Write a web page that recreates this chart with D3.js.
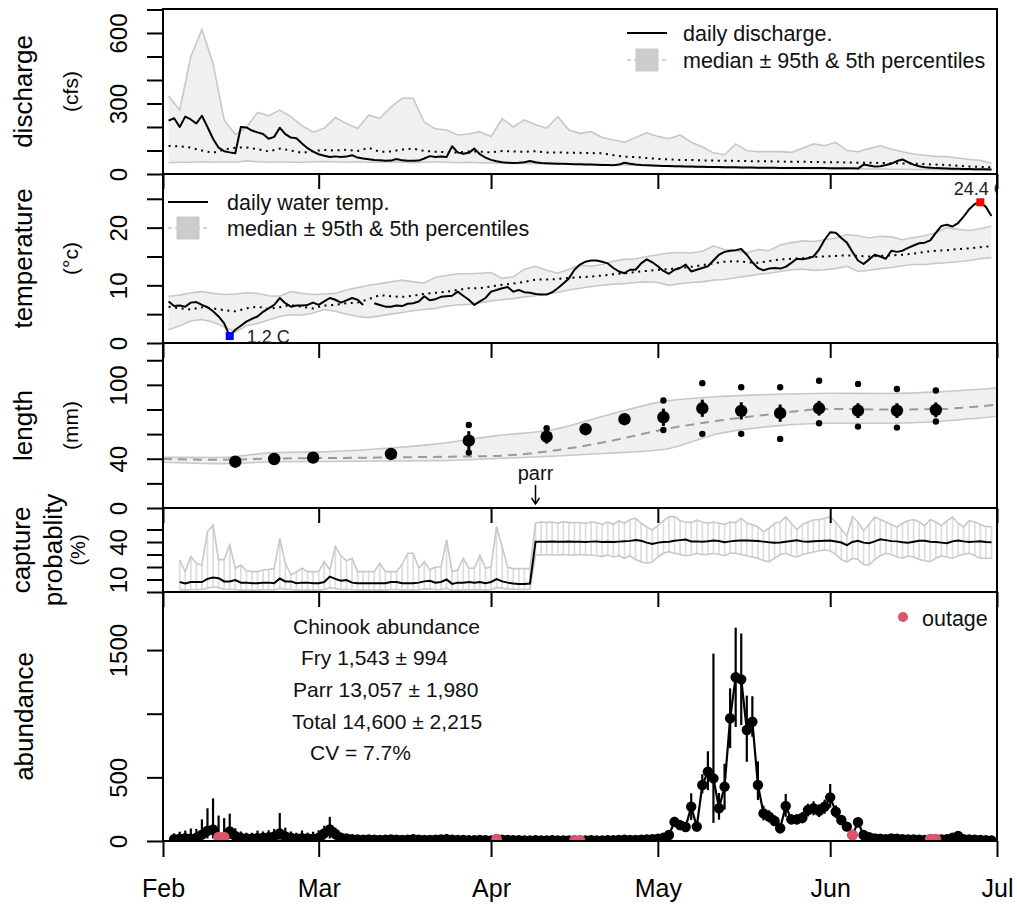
<!DOCTYPE html>
<html><head><meta charset="utf-8">
<script src="https://cdn.jsdelivr.net/npm/d3@7"></script>
<style>
body{margin:0;background:#fff;}
svg{display:block;}
</style></head><body>
<svg id="chart" width="1017" height="905"></svg>
<script>
// ---------------- DATA ----------------
// day index: 0 = 1 Feb
const monthLabels = ["Feb","Mar","Apr","May","Jun","Jul"];

const dischargeStart = 1;
const dischargeDaily = [227,237,200,244,232,215,248,200,150,112,
 97,92,88,200,198,185,177,170,150,158,
 197,170,155,152,130,110,95,84,78,72,
 75,72,74,80,70,66,63,60,58,56,
 57,64,58,56,56,57,66,76,72,74,
 72,118,92,86,90,108,84,70,60,54,
 50,48,47,48,50,55,50,47,46,45,
 44,44,43,42,41,40,40,39,38,38,
 37,40,48,44,40,38,37,36,35,34,
 34,33,33,32,32,31,31,30,30,30,
 29,29,29,28,28,28,27,27,27,27,
 26,26,26,26,25,25,25,25,25,24,
 24,24,24,24,23,40,36,32,33,38,
 44,55,62,50,40,33,29,27,25,24,
 23,22,22,21,21,20,20,20,19];
// band series sampled every 2nd day starting day 1
const bandStart = 1;
const dischargeP95 = [332,272,500,615,470,230,168,198,262,248,
 272,244,205,178,195,240,215,194,250,237,
 285,322,322,220,192,187,166,170,180,160,
 235,200,230,210,195,244,187,173,180,155,
 145,135,155,175,160,150,166,135,116,90,
 82,128,100,95,95,95,92,110,128,120,
 135,100,95,108,120,105,95,85,80,75,
 74,68,62,58,46];
const dischargeP5 = [48,50,50,52,50,52,50,56,52,50,
 52,50,50,52,53,52,50,52,50,50,
 52,50,48,50,52,50,48,50,48,47,
 46,45,45,44,43,42,42,41,40,40,
 38,38,37,36,36,32,31,30,29,28,
 27,27,26,26,25,25,24,24,23,23,
 22,22,22,21,21,20,20,19,19,18,
 18,17,17,16,16];
const dischargeMedian = [119,118,112,100,90,104,112,113,106,96,
 108,100,90,98,102,100,103,98,112,94,
 96,104,108,98,95,93,91,96,95,92,
 98,96,94,97,92,92,90,90,89,88,
 80,74,72,68,64,62,60,60,58,57,
 56,56,55,54,54,53,52,52,51,50,
 50,49,48,48,47,46,45,44,42,40,
 38,35,32,30,28];

const tempStart = 1;
const tempDaily = [7.2,6.4,6.5,6.3,7.0,7.1,6.6,6.2,5.5,4.6,
 3.4,1.2,2.3,3.0,3.7,4.2,4.6,5.4,6.0,6.6,
 7.8,6.9,6.3,6.5,6.5,6.6,7.0,6.6,7.2,7.8,
 7.5,7.0,7.4,7.8,7.5,6.6,null,6.9,6.6,6.3,
 6.3,6.5,6.4,6.8,6.9,7.2,8.1,7.4,7.6,8.0,
 8.1,8.2,8.9,8.2,7.5,6.6,7.2,7.8,8.9,9.2,
 9.5,9.7,8.9,9.2,8.8,8.7,8.5,8.4,8.4,8.8,
 9.5,10.3,11.2,12.7,13.6,14.1,14.3,14.3,14.1,13.8,
 13.0,12.4,12.1,12.7,12.7,13.8,14.5,14.0,13.3,12.5,
 12.0,12.7,13.0,13.6,12.4,12.7,13.0,13.3,14.3,15.3,
 15.8,16.0,16.1,16.3,15.3,14.0,13.0,12.6,12.9,13.0,
 12.9,13.2,13.9,14.6,14.5,14.7,15.0,16.2,17.9,19.2,
 19.1,18.2,17.4,15.8,14.3,13.7,14.5,15.3,15.0,14.6,
 16.0,15.8,16.0,16.5,16.9,17.3,17.4,17.8,19.1,20.3,
 20.5,20.2,20.8,21.9,23.2,24.1,24.4,23.6,22.0];
const tempP95 = [8.1,8.3,8.7,8.9,8.6,8.4,8.5,8.7,8.6,8.2,
 8.1,8.9,8.6,8.4,8.5,8.6,9.2,9.6,10.0,10.3,
 10.6,10.9,10.6,10.4,11.4,11.7,12.0,12.0,12.1,12.2,
 11.2,11.5,12.8,13.3,12.6,12.1,12.8,13.5,13.3,13.6,
 14.2,14.5,14.6,15.0,15.3,15.6,15.7,15.6,15.9,16.8,
 16.2,16.0,15.6,16.2,16.0,17.0,17.4,17.7,17.6,17.9,
 18.2,18.8,18.6,18.2,18.5,18.4,17.9,18.3,18.6,19.1,
 20.0,19.7,19.5,19.8,20.3];
const tempP5 = [2.3,3.0,3.8,4.1,3.6,2.8,1.9,3.0,3.4,4.0,
 4.6,4.9,4.8,5.2,5.8,5.5,5.0,4.6,4.4,4.7,
 5.0,5.3,5.6,5.8,6.0,6.4,6.6,6.7,7.0,7.3,
 7.5,7.7,8.0,8.2,8.5,8.8,9.2,9.5,9.8,10.0,
 10.2,10.3,10.5,10.6,10.5,10.0,10.3,10.5,10.6,10.9,
 11.0,11.3,11.6,11.9,12.1,12.4,12.7,12.8,12.6,12.7,
 12.9,13.3,12.4,12.6,12.9,13.1,13.4,13.6,13.6,13.8,
 13.9,14.1,14.3,14.6,14.8];
const tempMedian = [6.3,6.0,5.8,6.2,6.0,5.7,5.5,6.0,6.3,5.9,
 6.2,6.6,6.3,6.0,6.5,6.6,6.9,7.0,7.6,8.3,
 8.1,8.0,8.2,8.5,8.7,8.9,9.2,9.5,9.5,9.8,
 10.1,10.3,10.6,11.0,11.0,11.1,11.3,11.4,11.5,11.7,
 11.9,12.1,12.3,12.5,12.7,12.8,13.0,13.2,13.5,13.8,
 14.1,14.2,14.0,13.9,14.2,14.5,14.6,14.7,14.9,15.0,
 15.1,15.2,15.1,15.0,15.1,15.2,15.3,15.5,15.8,16.0,
 16.1,16.3,16.4,16.6,16.8];

const lengthDays = [13,20,27,41,55,69,76,83,90,97,104,111,118,125,132,139];
const lengthMean = [37.6,39.8,40.9,43.9,54.7,58.0,64.0,72.1,73.7,81.0,78.9,77.0,81.0,79.1,79.1,79.7];
const lengthSD   = [2,2,2,2,7.7,5.7,3,3,7,7,7,7,6,6,6,6];
const lengthMin  = [null,null,null,null,45.0,null,null,null,63.4,60.2,60.2,56.1,68.8,66.1,65.3,70.2];
const lengthMax  = [null,null,null,null,67.5,64.8,null,null,87.3,101.4,98.1,98.1,103.3,100.8,96.7,95.4];
const lengthBandDays   = [0,10,20,30,40,50,60,70,80,90,100,110,120,130,140,150];
const lengthBandMedian = [39.8,39.2,40.2,40.6,41.0,41.6,42.3,46.5,54.0,63.8,71.0,76.5,80.5,80.0,80.5,84.0];
const lengthBandUpper  = [41.2,41.0,45.0,45.8,48.5,52.5,58.8,63.5,75.5,86.6,90.5,92.3,93.2,93.0,94.5,97.5];
const lengthBandLower  = [37.1,36.0,37.5,37.8,38.2,38.5,40.2,42.0,44.5,47.5,60.5,66.5,68.8,68.8,70.5,74.5];
const parrStartDay = 67;

const captureStart = 3;
const captureEst = [8.0,6.8,8.0,8.0,8.0,10.5,11.5,11.0,8.5,8.5,
 9.5,7.5,7.5,7.0,7.0,7.5,7.5,7.0,10.8,8.5,
 8.5,7.0,7.5,7.5,7.0,7.0,8.0,12.3,10.5,9.0,
 9.5,7.5,7.0,7.0,7.0,7.0,7.0,7.0,8.0,8.0,
 7.0,7.0,7.0,7.5,8.5,9.0,7.5,8.0,10.0,6.5,
 7.5,7.5,8.0,7.5,8.0,7.0,8.0,10.4,8.5,7.5,
 6.8,6.5,6.5,6.8,
 40.3,40.3,40.2,40.3,40.2,40.2,40.3,40.2,40.2,40.1,
 40.3,40.4,40.0,40.2,40.0,40.3,40.6,40.9,41.6,41.0,
 39.5,38.5,39.5,40.0,40.2,41.0,41.5,42.0,40.5,40.5,
 40.2,40.6,41.2,40.8,39.8,40.5,41.0,41.2,41.2,41.0,
 40.8,40.3,39.8,39.5,39.6,40.2,40.8,41.3,40.5,40.3,
 40.6,40.8,41.0,41.2,40.4,39.6,37.5,40.0,41.0,39.5,
 39.0,40.5,42.2,41.5,40.7,40.5,39.8,39.5,40.2,41.0,
 41.0,40.2,40.0,39.5,39.0,40.5,41.2,40.5,40.0,40.3,
 40.5,40.0,39.8];
const captureUpper = [25.6,16.3,28.3,23.0,21.6,48.3,53.6,25.9,25.9,37.6,
 19.0,21.6,17.0,16.3,16.3,17.6,18.0,19.0,43.0,23.0,
 13.6,16.0,19.0,16.3,16.3,16.3,24.3,17.6,36.3,29.0,
 25.0,26.9,16.3,16.3,16.3,16.3,23.0,16.3,16.3,16.3,
 22.0,31.0,31.0,19.0,24.3,17.6,20.0,20.0,41.6,16.3,
 17.6,26.9,19.0,19.0,29.3,19.0,20.0,52.3,36.0,19.7,
 18.7,18.7,18.7,18.7,
 55,56,55.5,56,55,56.3,55.5,55.5,55.5,55,
 56,55.5,54,56,54,57,55,58,59,55,
 52,49.6,53,57,60.3,60.3,57,56,55.5,57.6,
 56,55,56,55,54,56,55.5,59,55,54,
 52,48.3,51,55,56,60,55,50,54,56,
 57.6,58,59,60.3,56,50,45,60,56,49,
 54,60,58,56,54,52,55,57,58,56,
 53,58,56,53,57,60,55,52,57,56,
 54,52.3,52.3];
const captureLower = [2.0,1.5,2.0,2.0,2.0,3.0,4.0,3.5,2.2,2.0,
 2.0,1.5,1.5,1.5,1.5,1.8,1.8,1.5,3.0,2.0,
 2.0,1.5,1.5,1.5,1.5,1.5,2.0,3.5,2.8,2.0,
 2.2,1.8,1.5,1.5,1.5,1.5,1.5,1.5,2.0,2.0,
 1.5,1.5,1.5,1.8,2.2,2.5,1.8,2.0,3.0,1.2,
 1.5,1.8,2.0,1.8,2.0,1.5,2.0,3.5,3.0,2.4,
 2.2,2.0,2.0,2.2,
 29.6,29.6,30,29.6,29.6,30,29.6,29.6,30,29.6,
 29.6,29,28.5,29.6,28,29,27,29,26,24,
 23,24,28,31,32.3,31,30,29,29.6,31,
 30,30,31,30,29,31,31,30,29,28,
 27,25,24.3,27,30,31,29,28,30,31,
 32,33,33.6,33,30,26,24,27,26,22,
 21.6,26,29,31,30,28,27,29,28,26,
 25,24.3,27,29,28,27,29,30,31,29,
 27,27,27];

const abundanceStart = 2;
const abundance = [15,18,22,18,25,50,80,90,30,30,
 75,40,25,20,20,22,25,30,35,60,
 35,25,20,22,20,18,25,60,90,55,
 25,20,15,12,10,12,10,8,10,12,
 10,8,10,15,10,8,8,10,12,15,
 10,8,8,6,6,8,6,5,15,10,
 8,6,6,5,5,6,5,5,6,5,
 5,5,5,5,5,6,5,5,6,6,
 8,10,8,8,10,12,15,18,25,47,
 150,125,110,270,113,440,545,492,257,427,
 964,1286,1270,872,937,440,217,191,157,100,
 275,170,170,183,243,257,238,270,343,230,
 165,113,47,147,47,30,20,18,15,20,
 18,15,12,12,10,8,15,15,12,15,
 25,40,15,12,10,8,6,5];
// upper and lower half-widths of the daily interval
const abundanceUpErr = [45,55,60,80,70,120,177,245,170,150,
 140,60,50,45,45,60,50,55,60,160,
 70,50,45,60,45,55,60,60,100,50,
 40,30,25,20,18,20,18,15,18,20,
 18,15,20,30,18,15,15,18,20,40,
 20,15,15,12,12,15,12,10,0,20,
 15,12,12,10,10,12,10,10,12,10,
 10,10,0,0,10,12,10,10,12,12,
 15,18,15,15,18,20,20,25,30,30,
 40,40,35,105,40,85,160,980,120,180,
 235,390,360,270,200,185,60,50,45,40,
 95,40,40,45,50,55,50,55,105,50,
 40,35,0,40,30,25,20,18,15,20,
 18,15,12,12,10,10,0,0,12,15,
 20,25,15,12,10,10,8,8];
const abundanceLoErr = [15,18,22,18,25,40,60,70,0,0,
 60,30,20,20,20,22,25,30,35,50,
 30,25,20,22,20,18,25,50,70,45,
 25,20,15,12,10,12,10,8,10,12,
 10,8,10,15,10,8,8,10,12,15,
 10,8,8,6,6,8,6,5,0,10,
 8,6,6,5,5,6,5,5,6,5,
 5,5,0,0,5,6,5,5,6,6,
 8,10,8,8,10,12,15,18,25,30,
 40,40,35,105,40,65,145,350,90,180,
 235,390,360,250,118,118,55,45,40,40,
 85,40,40,45,50,55,50,55,80,50,
 40,35,0,40,30,25,20,18,15,20,
 18,15,12,12,10,8,0,0,12,15,
 20,25,15,12,10,8,6,5];
const outageDays = [10,11,60,74,75,124,138,139];

const abundanceNotes = ["Chinook abundance","Fry 1,543 \u00b1 994","Parr 13,057 \u00b1 1,980","Total 14,600 \u00b1 2,215","CV = 7.7%"];

const dischargeTicks = [0,100,200,300,400,500,600,700], dischargeLabels = [0,300,600];
const tempTicks = [0,5,10,15,20,25], tempLabels = [0,10,20];
const lengthTicks = [0,20,40,60,80,100,120], lengthLabels = [0,40,100];
const captureTicks = [0,10,20,30,40,50], captureLabels = [10,40];
const abundanceTicks = [0,500,1000,1500], abundanceLabels = [0,500,1500];

// ---------------- LAYOUT ----------------
const FONT = '"Liberation Sans", Arial, Helvetica, sans-serif';
const svg = d3.select('#chart').attr('font-family', FONT);
const L = 163, R = 997;
const date = d => new Date(Date.UTC(2023, 1, 1 + d));
const x = d3.scaleUtc().domain([date(0), date(150)]).range([L, R]);
const xd = d => x(date(d));
const P = {
  dis:{top:9,bottom:174}, tmp:{top:174,bottom:343}, len:{top:343,bottom:508},
  cap:{top:508,bottom:592}, abd:{top:592,bottom:841}
};
const yDis = d3.scaleLinear().domain([0,702]).range([P.dis.bottom,P.dis.top]);
const yTmp = d3.scaleLinear().domain([0,29.3]).range([P.tmp.bottom,P.tmp.top]);
const yLen = d3.scaleLinear().domain([0,134]).range([P.len.bottom,P.len.top]);
const yCap = d3.scaleLinear().domain([0,67.2]).range([P.cap.bottom,P.cap.top]);
const yAbd = d3.scaleLinear().domain([0,1956]).range([P.abd.bottom,P.abd.top]);

const defs = svg.append('defs');
function clipGroup(key){
  const p = P[key];
  defs.append('clipPath').attr('id','clip-'+key).append('rect')
    .attr('x',L).attr('y',p.top).attr('width',R-L).attr('height',p.bottom-p.top);
  return svg.append('g').attr('clip-path',`url(#clip-${key})`);
}
const daily = (start, arr) => arr.map((v,i)=>({d:start+i, v}));
const every2 = (start, arr) => arr.map((v,i)=>({d:start+2*i, v}));
const BAND_FILL = '#f0f0f0', BAND_LINE = '#c8c8c8';

function bandPanel(key, y, p95, p5, med, dailyVals, dStart){
  const g = clipGroup(key);
  const band = p95.map((v,i)=>({d:bandStart+2*i, hi:v, lo:p5[i]}));
  g.append('path').datum(band).attr('fill',BAND_FILL)
    .attr('d', d3.area().x(p=>xd(p.d)).y0(p=>y(p.lo)).y1(p=>y(p.hi)));
  const ln = d3.line().x(p=>xd(p.d)).y(p=>y(p.v)).defined(p=>p.v!=null);
  [p95,p5].forEach(arr=>g.append('path').datum(every2(bandStart,arr))
    .attr('fill','none').attr('stroke',BAND_LINE).attr('stroke-width',1.6).attr('d',ln));
  g.append('path').datum(every2(bandStart,med)).attr('fill','none').attr('stroke','#000')
    .attr('stroke-width',2).attr('stroke-dasharray','2 4.6').attr('d',ln);
  g.append('path').datum(daily(dStart,dailyVals)).attr('fill','none').attr('stroke','#000')
    .attr('stroke-width',2).attr('stroke-linejoin','round').attr('d',ln);
  return g;
}

// discharge
bandPanel('dis', yDis, dischargeP95, dischargeP5, dischargeMedian, dischargeDaily, dischargeStart);
// temperature
const gT = bandPanel('tmp', yTmp, tempP95, tempP5, tempMedian, tempDaily, tempStart);
{
  const vals = tempDaily.map(v=> v==null? NaN : v);
  const iMin = d3.minIndex(vals), iMax = d3.maxIndex(vals);
  const dMin = tempStart+iMin, dMax = tempStart+iMax;
  gT.append('rect').attr('x',xd(dMin)-4).attr('y',yTmp(vals[iMin])-4).attr('width',8).attr('height',8).attr('fill','#0000ff');
  gT.append('rect').attr('x',xd(dMax)-4).attr('y',yTmp(vals[iMax])-4).attr('width',8).attr('height',8).attr('fill','#ff0000');
  gT.append('text').attr('x',xd(dMin)+17).attr('y',yTmp(vals[iMin])).attr('dy','0.36em')
    .attr('font-size',18).attr('fill','#222').text(d3.format('.1f')(vals[iMin])+' C');
  gT.append('text').attr('x',xd(dMax)).attr('y',yTmp(vals[iMax])-14).attr('dy','0.36em')
    .attr('text-anchor','middle').attr('font-size',18).attr('fill','#222').text(d3.format('.1f')(vals[iMax])+' C');
}

// length
{
  const g = clipGroup('len');
  const band = lengthBandDays.map((d,i)=>({d, hi:lengthBandUpper[i], lo:lengthBandLower[i], m:lengthBandMedian[i]}));
  const cv = d3.curveMonotoneX;
  g.append('path').datum(band).attr('fill',BAND_FILL)
    .attr('d', d3.area().curve(cv).x(p=>xd(p.d)).y0(p=>yLen(p.lo)).y1(p=>yLen(p.hi)));
  ['hi','lo'].forEach(k=>g.append('path').datum(band).attr('fill','none').attr('stroke',BAND_LINE)
    .attr('stroke-width',1.6).attr('d', d3.line().curve(cv).x(p=>xd(p.d)).y(p=>yLen(p[k]))));
  g.append('path').datum(band).attr('fill','none').attr('stroke','#9a9a9a').attr('stroke-width',2)
    .attr('stroke-dasharray','9 6').attr('d', d3.line().curve(cv).x(p=>xd(p.d)).y(p=>yLen(p.m)));
  const pts = lengthDays.map((d,i)=>({d, m:lengthMean[i], s:lengthSD[i], mn:lengthMin[i], mx:lengthMax[i]}));
  g.selectAll('line.sd').data(pts).join('line').attr('stroke','#000').attr('stroke-width',3)
    .attr('x1',p=>xd(p.d)).attr('x2',p=>xd(p.d)).attr('y1',p=>yLen(p.m-p.s)).attr('y2',p=>yLen(p.m+p.s));
  g.selectAll('circle.m').data(pts).join('circle').attr('cx',p=>xd(p.d)).attr('cy',p=>yLen(p.m)).attr('r',6.2);
  const ext = [];
  pts.forEach(p=>{ if(p.mn!=null) ext.push({d:p.d,v:p.mn}); if(p.mx!=null) ext.push({d:p.d,v:p.mx}); });
  g.selectAll('circle.e').data(ext).join('circle').attr('cx',p=>xd(p.d)).attr('cy',p=>yLen(p.v)).attr('r',3.2);
  // parr arrow
  const ax = xd(parrStartDay);
  g.append('text').attr('x',ax).attr('y',480).attr('text-anchor','middle').attr('font-size',20).attr('fill','#111').text('parr');
  g.append('line').attr('x1',ax).attr('x2',ax).attr('y1',485).attr('y2',504).attr('stroke','#000').attr('stroke-width',1.5);
  g.append('path').attr('d',`M${ax-4},${498}L${ax},${504}L${ax+4},${498}`).attr('fill','none').attr('stroke','#000').attr('stroke-width',1.5);
}

// capture probability
{
  const g = clipGroup('cap');
  const rows = captureEst.map((v,i)=>({d:captureStart+i, v, hi:captureUpper[i], lo:captureLower[i]}));
  g.selectAll('line.h').data(rows).join('line').attr('stroke','#dedede').attr('stroke-width',1.8)
    .attr('x1',p=>xd(p.d)).attr('x2',p=>xd(p.d)).attr('y1',p=>yCap(p.lo)).attr('y2',p=>yCap(p.hi));
  ['hi','lo'].forEach(k=>g.append('path').datum(rows).attr('fill','none').attr('stroke',BAND_LINE)
    .attr('stroke-width',1.6).attr('d', d3.line().x(p=>xd(p.d)).y(p=>yCap(p[k]))));
  g.append('path').datum(rows).attr('fill','none').attr('stroke','#000').attr('stroke-width',2)
    .attr('d', d3.line().x(p=>xd(p.d)).y(p=>yCap(p.v)));
}

// abundance
{
  const g = clipGroup('abd');
  const rows = abundance.map((v,i)=>({d:abundanceStart+i, v, up:abundanceUpErr[i], lo:abundanceLoErr[i]}));
  g.selectAll('line.eb').data(rows.filter(r=>r.up>0)).join('line').attr('stroke','#000').attr('stroke-width',2.2)
    .attr('x1',p=>xd(p.d)).attr('x2',p=>xd(p.d)).attr('y1',p=>yAbd(Math.max(0,p.v-p.lo))).attr('y2',p=>yAbd(p.v+p.up));
  g.append('path').datum(rows).attr('fill','none').attr('stroke','#000').attr('stroke-width',2.2)
    .attr('d', d3.line().x(p=>xd(p.d)).y(p=>yAbd(p.v)));
  g.selectAll('circle.a').data(rows).join('circle').attr('cx',p=>xd(p.d)).attr('cy',p=>yAbd(p.v)).attr('r',5.2);
  const out = rows.filter(r=>outageDays.includes(r.d));
  g.selectAll('circle.o').data(out).join('circle').attr('cx',p=>xd(p.d)).attr('cy',p=>yAbd(p.v)).attr('r',5.4).attr('fill','#DF536B');
}

// ---------------- FRAMES & AXES ----------------
Object.keys(P).forEach(k=>{
  const p = P[k];
  svg.append('rect').attr('x',L).attr('y',p.top).attr('width',R-L).attr('height',p.bottom-p.top)
    .attr('fill','none').attr('stroke','#000').attr('stroke-width',2);
});
const months = d3.utcMonth.range(date(0), date(151));
['tmp','len','cap','abd'].forEach(k=>{
  svg.append('g').attr('transform',`translate(0,${P[k].top})`)
    .call(d3.axisTop(x).tickValues(months).tickSize(-15).tickFormat(''))
    .call(g=>{g.select('.domain').remove(); g.selectAll('line').attr('stroke','#000').attr('stroke-width',2);});
});
svg.append('g').attr('transform',`translate(0,${P.abd.bottom})`)
  .call(d3.axisBottom(x).tickValues(months).tickSize(16).tickFormat((d,i)=>monthLabels[i]))
  .call(g=>{
    g.select('.domain').remove();
    g.selectAll('line').attr('stroke','#000').attr('stroke-width',2);
    g.selectAll('text').attr('y',56).attr('dy',0).attr('font-size',25).attr('font-family',FONT).attr('fill','#000');
  });

function yAxis(scale, ticks, labels){
  svg.append('g').attr('transform',`translate(${L},0)`)
    .call(d3.axisLeft(scale).tickValues(ticks).tickSize(16).tickFormat(v=>labels.includes(v)? String(v):''))
    .call(g=>{
      g.select('.domain').remove();
      g.selectAll('line').attr('stroke','#000').attr('stroke-width',2);
      g.selectAll('text').attr('x',0).attr('dy',0).attr('transform','translate(-36,0) rotate(-90)')
        .attr('text-anchor','middle').attr('font-size',24).attr('font-family',FONT).attr('fill','#000');
    });
}
yAxis(yDis, dischargeTicks, dischargeLabels);
yAxis(yTmp, tempTicks, tempLabels);
yAxis(yLen, lengthTicks, lengthLabels);
yAxis(yCap, captureTicks, captureLabels);
yAxis(yAbd, abundanceTicks, abundanceLabels);

// axis titles
function vtext(txt, xb, yc, size){
  svg.append('text').attr('transform',`translate(${xb},${yc}) rotate(-90)`).attr('text-anchor','middle')
    .attr('font-size',size).attr('fill','#000').text(txt);
}
const mid = k => (P[k].top+P[k].bottom)/2;
vtext('discharge',32,mid('dis'),26); vtext('(cfs)',78,mid('dis'),21);
vtext('temperature',32,mid('tmp'),26); vtext('(\u00b0c)',78,mid('tmp'),21);
vtext('length',32,mid('len'),26); vtext('(mm)',78,mid('len'),21);
vtext('capture',30,mid('cap'),26); vtext('probablity',62,mid('cap'),26); vtext('(%)',85,mid('cap'),20);
vtext('abundance',33,mid('abd'),26);

// legends
function legend(lx, y1, y2, tx, label1){
  svg.append('line').attr('x1',lx).attr('x2',lx+40).attr('y1',y1).attr('y2',y1).attr('stroke','#000').attr('stroke-width',2);
  svg.append('line').attr('x1',lx).attr('x2',lx+40).attr('y1',y2).attr('y2',y2).attr('stroke','#c8c8c8').attr('stroke-width',1.5).attr('stroke-dasharray','4 3');
  svg.append('rect').attr('x',lx+8.5).attr('y',y2-11.5).attr('width',23).attr('height',23).attr('fill','#cccccc');
  svg.append('text').attr('x',tx).attr('y',y1).attr('dy','0.36em').attr('font-size',21.5).attr('fill','#111').text(label1);
  svg.append('text').attr('x',tx).attr('y',y2).attr('dy','0.36em').attr('font-size',21.5).attr('fill','#111').text('median \u00b1 95th & 5th percentiles');
}
legend(627, 33, 60, 683, 'daily discharge.');
legend(168, 202, 228, 227, 'daily water temp.');

// abundance notes
const noteOffsets = [0, 8, 0, -1, 17];
abundanceNotes.forEach((t,i)=>{
  svg.append('text').attr('x',293+noteOffsets[i]).attr('y',626+i*31.7).attr('dy','0.36em')
    .attr('font-size',21).attr('fill','#111').text(t);
});
svg.append('circle').attr('cx',903).attr('cy',617).attr('r',5).attr('fill','#DF536B');
svg.append('text').attr('x',922).attr('y',618).attr('dy','0.36em').attr('font-size',21.5).attr('fill','#111').text('outage');
</script>
</body></html>
